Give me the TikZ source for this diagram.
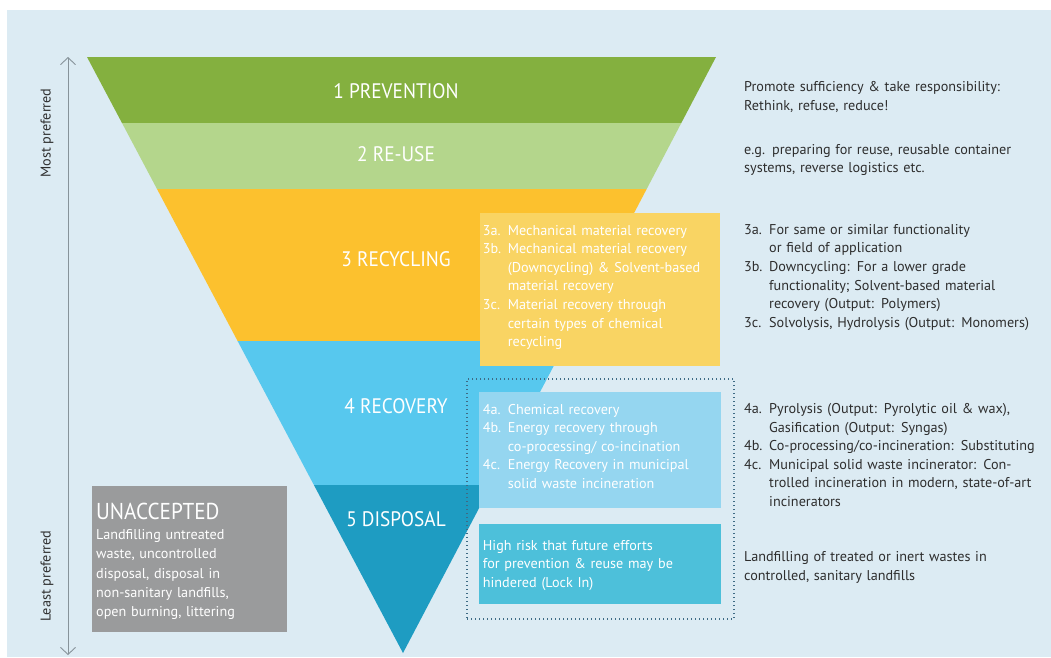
\documentclass[tikz,border=0pt]{standalone}
\usepackage{fontspec}
\setmainfont{PT Sans}
\newfontfamily\headfont{PT Sans}[FakeStretch=0.92]
\usetikzlibrary{arrows.meta}

\definecolor{panel}{HTML}{DCEBF3}
\definecolor{prevgreen}{HTML}{84B03F}
\definecolor{reusegreen}{HTML}{B4D68C}
\definecolor{recyellow}{HTML}{FCC12E}
\definecolor{recblue}{HTML}{57C8EE}
\definecolor{dispblue}{HTML}{1E9CC2}
\definecolor{ynote}{HTML}{F9D463}
\definecolor{bnote}{HTML}{95D6F0}
\definecolor{dnote}{HTML}{4DC0DA}
\definecolor{unacc}{HTML}{9A9B9C}
\definecolor{ink}{HTML}{2E2E2E}
\definecolor{axis}{HTML}{87939A}
\definecolor{dotline}{HTML}{3E6B85}

% label of a hanging item and the indent of its continuation lines
\newcommand\itlab[1]{\makebox[25pt][l]{#1}}
\newcommand\itcont{\hspace*{25pt}}

\begin{document}
\begin{tikzpicture}[x=1pt,y=-1pt,
  band title/.style={anchor=base, text=white, inner sep=0pt,
    font=\headfont\fontsize{21}{24}\selectfont},
  note/.style={anchor=north west, inner sep=0pt, align=left,
    text width=#1, font=\fontsize{14.2}{18.6}\selectfont},
  side text/.style={note=305pt, text=ink},
  box text/.style={note=240pt, text=white},
  panelbox/.style={draw=none, inner sep=0pt, anchor=center},
  axis label/.style={rotate=90, text=ink, inner sep=0pt,
    font=\fontsize{14.2}{16}\selectfont}
]
\useasboundingbox (0,0) rectangle (1051,657);
\fill[white] (0,0) rectangle (1051,657);
\fill[panel] (7,10) rectangle (1051,657);

% inverted pyramid, five bands
\fill[prevgreen]  (87,57) -- (716,57) -- (681.3,123) -- (122,123) -- cycle;
\fill[reusegreen] (122,123) -- (681.3,123) -- (646.7,189) -- (157,189) -- cycle;
\fill[recyellow]  (157,189) -- (646.7,189) -- (566.8,341) -- (237.6,341) -- cycle;
\fill[recblue]    (237.6,341) -- (566.8,341) -- (491.2,485) -- (313.9,485) -- cycle;
\fill[dispblue]   (313.9,485) -- (491.2,485) -- (403,653) -- cycle;

\node[band title] (t1) at (396,98.3) {1 PREVENTION};
\node[band title] (t2) at (396,161) {2 RE-USE};
\node[band title] (t3) at (396,266.5) {3 RECYCLING};
\node[band title] (t4) at (396,413.5) {4 RECOVERY};
\node[band title] (t5) at (396,526) {5 DISPOSAL};

% preference axis
\coordinate (axtop) at (68,57);
\coordinate (axbot) at (68,655);
\draw[axis, line width=0.9pt,
  {Straight Barb[length=7pt,width=15pt]}-{Straight Barb[length=7pt,width=15pt]}]
  (axtop) -- (axbot);
\node[axis label] (most) at (47,133) {Most preferred};
\node[axis label] (least) at (47,576) {Least preferred};

% detail boxes
\node[panelbox, fill=ynote, minimum width=240pt, minimum height=153pt]
  (recbox) at (600,289.5) {};
\node[panelbox, fill=bnote, minimum width=242pt, minimum height=116pt]
  (recovbox) at (600,450) {};
\node[panelbox, fill=dnote, minimum width=242pt, minimum height=80pt]
  (dispbox) at (600,564) {};
\node[panelbox, draw=dotline, line width=1.4pt,
  dash pattern=on 1.4pt off 2.6pt, minimum width=267pt, minimum height=240pt]
  (lockin) at (600.5,499) {};
\node[panelbox, fill=unacc, minimum width=195pt, minimum height=146pt]
  (unaccbox) at (189.5,559) {};

\node[box text] (recnote) at (482.7,224.8) {%
\itlab{3a.}Mechanical material recovery\\
\itlab{3b.}Mechanical material recovery\\
\itcont(Downcycling) \& Solvent-based\\
\itcont material recovery\\
\itlab{3c.}Material recovery through\\
\itcont certain types of chemical\\
\itcont recycling};

\node[box text] (recovnote) at (482.7,403.8) {%
\itlab{4a.}Chemical recovery\\
\itlab{4b.}Energy recovery through\\
\itcont co-processing/ co-incination\\
\itlab{4c.}Energy Recovery in municipal\\
\itcont solid waste incineration};

\node[box text] (dispnote) at (482.7,539.8) {%
High risk that future efforts\\
for prevention \& reuse may be\\
hindered (Lock In)};

\node[anchor=base west, inner sep=0pt, text=white,
  font=\headfont\fontsize{23}{26}\selectfont] (unacctitle) at (96,519) {UNACCEPTED};
\node[note=190pt, text=white, font=\fontsize{14.2}{19.4}\selectfont]
  (unaccnote) at (96,529.1) {%
Landfilling untreated\\
waste, uncontrolled\\
disposal, disposal in\\
non-sanitary landfills,\\
open burning, littering};

% explanations on the right
\node[side text] (s1) at (744,81.5) {%
Promote sufficiency \& take responsibility:\\
Rethink, refuse, reduce!};
\node[side text] (s2) at (744,144.1) {%
e.g. preparing for reuse, reusable container\\
systems, reverse logistics etc.};
\node[side text] (s3) at (744,224.1) {%
\itlab{3a.}For same or similar functionality\\
\itcont or field of application\\
\itlab{3b.}Downcycling: For a lower grade\\
\itcont functionality; Solvent-based material\\
\itcont recovery (Output: Polymers)\\
\itlab{3c.}Solvolysis, Hydrolysis (Output: Monomers)};
\node[side text] (s4) at (744,403.1) {%
\itlab{4a.}Pyrolysis (Output: Pyrolytic oil \& wax),\\
\itcont Gasification (Output: Syngas)\\
\itlab{4b.}Co-processing/co-incineration: Substituting\\
\itlab{4c.}Municipal solid waste incinerator: Con-\\
\itcont trolled incineration in modern, state-of-art\\
\itcont incinerators};
\node[side text] (s5) at (744,551.5) {%
Landfilling of treated or inert wastes in\\
controlled, sanitary landfills};
\end{tikzpicture}
\end{document}
